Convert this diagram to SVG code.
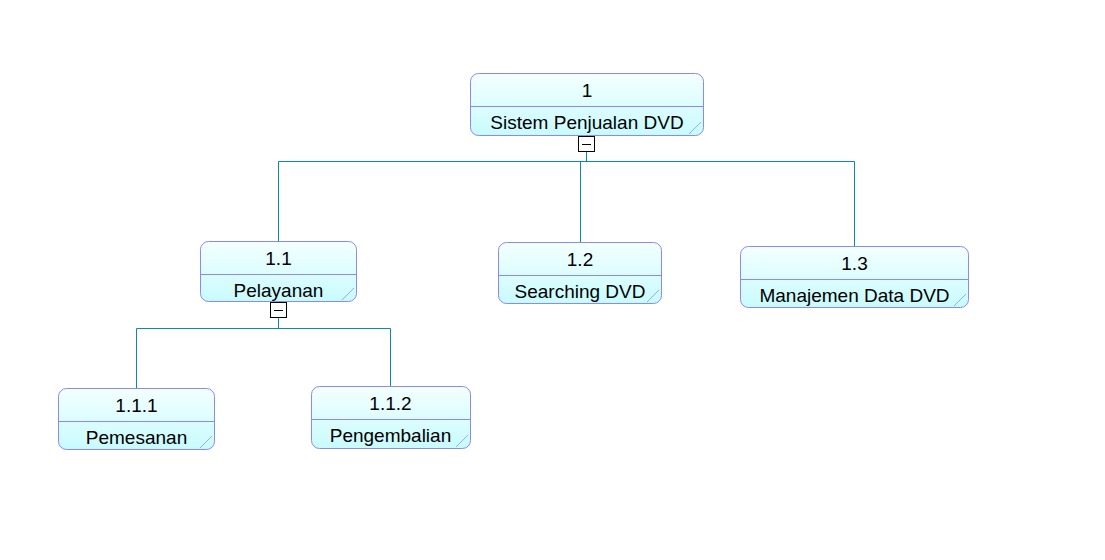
<svg xmlns="http://www.w3.org/2000/svg" width="1105" height="560" viewBox="0 0 1105 560">
<style>
.box{fill:url(#g);stroke:#8888ff;stroke-width:1}
.div{stroke:#8888ff;stroke-width:1}
.tick{stroke:#9aa8ff;stroke-width:1}
.t{font-family:"Liberation Sans",Arial,sans-serif;font-size:19px;fill:#000;text-anchor:middle}
.c{fill:none;stroke:#0a86c4;stroke-width:1}
.mb{fill:#fff;stroke:#000;stroke-width:1}
.mn{stroke:#000;stroke-width:1}
</style>
<defs>
<linearGradient id="g" x1="0" y1="0" x2="0" y2="1">
<stop offset="0" stop-color="#f4ffff"/>
<stop offset="1" stop-color="#c8fbff"/>
</linearGradient>
</defs>
<rect width="1105" height="560" fill="#fff"/>
<g id="connectors">
<path class="c" d="M586.5 151V161.5M278.5 161.5H854.5M278.5 161.5V241M580.5 161.5V242M854.5 161.5V246"/>
<path class="c" d="M278.5 318V328.5M136.5 328.5H390.5M136.5 328.5V388M390.5 328.5V386"/>
</g>
<g id="n1">
<rect class="box" x="470.5" y="73.5" width="233" height="62" rx="8"/>
<line class="div" x1="470.5" y1="106.5" x2="703.5" y2="106.5"/>
<line class="tick" x1="701" y1="122" x2="689" y2="134"/>
<text class="t" x="587" y="97">1</text>
<text class="t" x="587" y="129">Sistem Penjualan DVD</text>
<rect class="mb" x="578.5" y="136.5" width="16" height="15"/>
<line class="mn" x1="582" y1="144.5" x2="591" y2="144.5"/>
</g>
<g id="n1_1">
<rect class="box" x="200.5" y="241.5" width="156" height="60" rx="8"/>
<line class="div" x1="200.5" y1="274.5" x2="356.5" y2="274.5"/>
<line class="tick" x1="354" y1="288" x2="342" y2="300"/>
<text class="t" x="278.5" y="265">1.1</text>
<text class="t" x="278.5" y="297">Pelayanan</text>
<rect class="mb" x="270.5" y="302.5" width="16" height="15"/>
<line class="mn" x1="274" y1="310.5" x2="283" y2="310.5"/>
</g>
<g id="n1_2">
<rect class="box" x="498.5" y="242.5" width="163" height="61" rx="8"/>
<line class="div" x1="498.5" y1="275.5" x2="661.5" y2="275.5"/>
<line class="tick" x1="659" y1="290" x2="647" y2="302"/>
<text class="t" x="580" y="266">1.2</text>
<text class="t" x="580" y="298">Searching DVD</text>
</g>
<g id="n1_3">
<rect class="box" x="740.5" y="246.5" width="228" height="61" rx="8"/>
<line class="div" x1="740.5" y1="279.5" x2="968.5" y2="279.5"/>
<line class="tick" x1="966" y1="294" x2="954" y2="306"/>
<text class="t" x="854.5" y="270">1.3</text>
<text class="t" x="854.5" y="302">Manajemen Data DVD</text>
</g>
<g id="n1_1_1">
<rect class="box" x="58.5" y="388.5" width="156" height="61" rx="8"/>
<line class="div" x1="58.5" y1="421.5" x2="214.5" y2="421.5"/>
<line class="tick" x1="212" y1="436" x2="200" y2="448"/>
<text class="t" x="136.5" y="412">1.1.1</text>
<text class="t" x="136.5" y="444">Pemesanan</text>
</g>
<g id="n1_1_2">
<rect class="box" x="311.5" y="386.5" width="159" height="62" rx="8"/>
<line class="div" x1="311.5" y1="419.5" x2="470.5" y2="419.5"/>
<line class="tick" x1="468" y1="435" x2="456" y2="447"/>
<text class="t" x="390.5" y="410">1.1.2</text>
<text class="t" x="390.5" y="442">Pengembalian</text>
</g>
</svg>
